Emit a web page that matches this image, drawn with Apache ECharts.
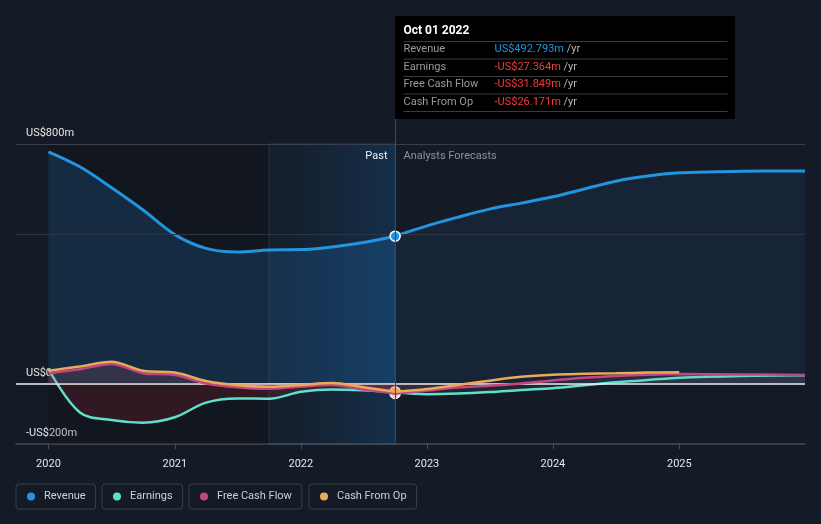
<!DOCTYPE html>
<html><head><meta charset="utf-8">
<script src="https://cdn.jsdelivr.net/npm/echarts@6/dist/echarts.min.js"></script>
<style>html,body{margin:0;padding:0;background:#151b26;}#c{width:821px;height:524px;}</style>
</head><body><div id="c"></div>
<script>
// ---------- data ----------
const pastDates = ['2020-01-01','2020-04-01','2020-07-01','2020-10-01','2021-01-01','2021-04-01','2021-07-01','2021-10-01','2022-01-01','2022-04-01','2022-07-01','2022-10-01'];
const revenuePast  = [774, 724, 655, 580, 498, 452, 440, 447, 448, 457, 472, 492.793];
const earningsPast = [50, -95, -120, -129, -111, -62, -48, -49, -26, -18, -21, -27.364];
const fcfPast      = [36, 49, 67, 36, 30, 2, -11, -16, -9, -3, -18, -31.849];
const cfoPast      = [44, 58, 74, 44, 38, 10, -4, -9, -3, 3, -11, -26.171];

const forecastDates = ['2022-10-01','2023-01-01','2023-04-01','2023-07-01','2023-10-01','2024-01-01','2024-04-01','2024-07-01','2024-10-01','2025-01-01','2025-07-01','2025-12-31'];
const revenueForecast  = [492.793, 527, 556, 583, 603, 624, 650, 676, 693, 704, 709, 710];
const earningsForecast = [-27.364, -34, -32, -27, -20, -14, -4, 6, 13, 21, 27, 29];
const fcfForecast      = [-31.849, -22, -12, -6, 2, 12, 21, 27, 31, 33, 32, 30];
const cfoForecast      = [-26.171, -17, -3, 11, 24, 31, 34, 36, 38, 39, null, null];

const seriesNames = ['Revenue', 'Earnings', 'Free Cash Flow', 'Cash From Op'];
const yearLabels = ['2020','2021','2022','2023','2024','2025'];
const yTickValues = [-200, 0, 800];
const gridLineValues = [800, 500];
const pastShadeStart = '2020-01-01';
const bandStart = '2021-10-01';
const axisStart = '2019-09-29';
const axisEnd = '2025-12-31';
const hoverDate = pastDates[pastDates.length - 1];

// ---------- helpers ----------
const COL = { rev: '#2394df', earn: '#5fe0cd', fcf: '#c4457f', cfo: '#e9aa5a' };
const FONT = 'Roboto, "Noto Sans", sans-serif';
function ts(s) { const p = s.split('-').map(Number); return new Date(p[0], p[1] - 1, p[2]).getTime(); }
function pairs(dates, vals) { return dates.map((d, i) => [ts(d), vals[i]]); }
function money(v) { return (v < 0 ? '-' : '') + 'US$' + Math.abs(v).toFixed(3) + 'm'; }
function axisMoney(v) { return v === 0 ? 'US$0' : (v < 0 ? '-US$' + (-v) + 'm' : 'US$' + v + 'm'); }
const yearTicks = yearLabels.map(y => ts(y + '-01-01'));
const last = pastDates.length - 1;

function dot(value, color, border) {
  return {
    silent: true, label: { show: false },
    data: [{ coord: [ts(hoverDate), value], symbol: 'circle', symbolSize: 10,
      itemStyle: { color: color, borderColor: border, borderWidth: 1.5 } }]
  };
}

const chart = echarts.init(document.getElementById('c'), null, { renderer: 'canvas' });

const legendLefts = [16, 102, 189, 309];
const legends = seriesNames.map((n, i) => ({
  data: [{ name: n, icon: 'circle' }],
  left: legendLefts[i], top: 484,
  orient: 'horizontal',
  borderColor: '#3b404b', borderWidth: 1, borderRadius: 3,
  padding: [7, 10, 7, 11],
  itemWidth: 8, itemHeight: 8,
  textStyle: { color: '#d0d0d0', fontSize: 11, fontFamily: FONT, padding: [0, 0, 0, 4] }
}));

const lineBase = { type: 'line', smooth: 0.35, showSymbol: false, symbol: 'none', emphasis: { disabled: true }, silent: true, z: 3 };

const option = {
  animation: false,
  backgroundColor: '#151b26',
  textStyle: { fontFamily: FONT },
  grid: { left: 16, right: 16, top: 144, bottom: 80 },
  legend: legends,
  xAxis: {
    type: 'value', min: ts(axisStart), max: ts(axisEnd), scale: true,
    axisLine: { show: true, onZero: false, lineStyle: { color: '#474c56', width: 1.5 } },
    axisTick: { show: true, length: 5, customValues: yearTicks, lineStyle: { color: '#474c56' } },
    axisLabel: { customValues: yearTicks, formatter: v => String(new Date(v).getFullYear()),
      color: '#e6e6e6', fontSize: 11, margin: 15, fontFamily: FONT, showMinLabel: true, showMaxLabel: true },
    splitLine: { show: false }
  },
  yAxis: {
    type: 'value', min: -200, max: 800, interval: 100,
    axisLine: { show: false }, axisTick: { show: false }, splitLine: { show: false },
    axisLabel: { inside: true, customValues: yTickValues, formatter: axisMoney, color: '#e6e6e6',
      fontSize: 11, margin: 10, verticalAlign: 'bottom', padding: [0, 0, 5, 0],
      showMinLabel: true, showMaxLabel: true, fontFamily: FONT }
  },
  series: [
    { type: 'line', name: '_bg', data: [], z: 1, silent: true,
      markArea: { silent: true, data: [
        [{ xAxis: ts(pastShadeStart), itemStyle: { color: 'rgba(0,0,0,0.18)' } }, { xAxis: ts(bandStart) }],
        [{ xAxis: ts(bandStart), itemStyle: {
            color: new echarts.graphic.LinearGradient(0, 0, 1, 0, [
              { offset: 0, color: 'rgba(20,60,100,0.08)' }, { offset: 1, color: 'rgba(20,75,125,0.42)' }]),
            borderColor: 'rgba(70,110,150,0.35)', borderWidth: 1 } },
         { xAxis: ts(hoverDate) }]
      ] },
      markLine: { silent: true, symbol: 'none', label: { show: false },
        data: gridLineValues.map((v, i) => ({ yAxis: v, lineStyle: { color: i === 0 ? '#3a404b' : '#2c3543', width: 1, type: 'solid' } })) }
    },
    { type: 'line', name: '_zero', data: [], z: 2, silent: true,
      markLine: { silent: true, symbol: 'none', label: { show: false },
        data: [{ yAxis: 0, lineStyle: { color: '#f2f2f2', width: 1.5, type: 'solid' } }] } },

    Object.assign({}, lineBase, { name: 'Revenue', data: pairs(pastDates, revenuePast), z: 3,
      lineStyle: { color: COL.rev, width: 3 }, itemStyle: { color: COL.rev },
      areaStyle: { color: 'rgba(35,140,230,0.25)' } }),
    Object.assign({}, lineBase, { name: 'Revenue', data: pairs(forecastDates, revenueForecast), z: 3,
      lineStyle: { color: COL.rev, width: 3 }, itemStyle: { color: COL.rev },
      areaStyle: { color: 'rgba(35,140,230,0.12)' } }),

    Object.assign({}, lineBase, { name: 'Earnings', data: pairs(pastDates, earningsPast), z: 4,
      lineStyle: { color: COL.earn, width: 2.5 }, itemStyle: { color: COL.earn },
      areaStyle: { color: 'rgba(170,40,55,0.3)' } }),
    Object.assign({}, lineBase, { name: 'Earnings', data: pairs(forecastDates, earningsForecast), z: 4,
      lineStyle: { color: COL.earn, width: 2.5 }, itemStyle: { color: COL.earn },
      areaStyle: { color: 'rgba(170,140,150,0.13)' } }),

    Object.assign({}, lineBase, { name: 'Free Cash Flow', data: pairs(pastDates, fcfPast), z: 5,
      lineStyle: { color: COL.fcf, width: 2.5 }, itemStyle: { color: COL.fcf },
      areaStyle: { color: 'rgba(200,90,110,0.25)' } }),
    Object.assign({}, lineBase, { name: 'Free Cash Flow', data: pairs(forecastDates, fcfForecast), z: 5,
      lineStyle: { color: COL.fcf, width: 2.5 }, itemStyle: { color: COL.fcf },
      areaStyle: { color: 'rgba(170,140,150,0.13)' } }),

    Object.assign({}, lineBase, { name: 'Cash From Op', data: pairs(pastDates, cfoPast), z: 6,
      lineStyle: { color: COL.cfo, width: 2.5 }, itemStyle: { color: COL.cfo } }),
    Object.assign({}, lineBase, { name: 'Cash From Op', data: pairs(forecastDates, cfoForecast), z: 6,
      lineStyle: { color: COL.cfo, width: 2.5 }, itemStyle: { color: COL.cfo } }),

    // highlight dots
    { type: 'line', name: '_dots1', data: [], z: 7, silent: true, markPoint: dot(revenuePast[last], COL.rev, '#ffffff') },
    { type: 'line', name: '_dots2', data: [], z: 7, silent: true, markPoint: dot(earningsPast[last], COL.earn, '#ffffff') },
    { type: 'line', name: '_dots3', data: [], z: 7, silent: true, markPoint: dot(fcfPast[last], COL.fcf, '#ffffff') },
    { type: 'line', name: '_dots4', data: [], z: 7, silent: true, markPoint: dot(cfoPast[last], COL.cfo, '#f4d6e2') }
  ]
};
chart.setOption(option);

// ---------- tooltip-like annotation at hover date ----------
const px = Math.round(chart.convertToPixel({ xAxisIndex: 0 }, ts(hoverDate))) + 0.5;
const yBottom = chart.convertToPixel({ yAxisIndex: 0 }, -200);
const yTop = chart.convertToPixel({ yAxisIndex: 0 }, 800);
const months = ['Jan','Feb','Mar','Apr','May','Jun','Jul','Aug','Sep','Oct','Nov','Dec'];
const hd = new Date(ts(hoverDate));
const tipTitle = months[hd.getMonth()] + ' ' + String(hd.getDate()).padStart(2, '0') + ' ' + hd.getFullYear();
const tipValues = [revenuePast[last], earningsPast[last], fcfPast[last], cfoPast[last]];

const boxTop = 16, boxH = 103, boxW = 340;
const els = [];
els.push({ type: 'line', silent: true, z: 100, shape: { x1: px, y1: boxTop + boxH, x2: px, y2: yBottom },
  style: { stroke: '#35495f', lineWidth: 1 } });
els.push({ type: 'rect', silent: true, z: 101, shape: { x: px - 0.5, y: boxTop, width: boxW, height: boxH }, style: { fill: '#000000' } });
els.push({ type: 'text', silent: true, z: 102, x: px + 8, y: 31,
  style: { text: tipTitle, fill: '#ffffff', font: 'bold 12px ' + FONT, verticalAlign: 'middle' } });
const sepYs = [41.5, 59, 76.5, 94, 111.5];
sepYs.forEach(y => els.push({ type: 'line', silent: true, z: 102,
  shape: { x1: px + 8, y1: y, x2: px + 332, y2: y }, style: { stroke: '#3c3c3c', lineWidth: 1 } }));
const rowYs = [49.5, 67, 84.5, 102];
seriesNames.forEach((n, i) => {
  els.push({ type: 'text', silent: true, z: 102, x: px + 8, y: rowYs[i],
    style: { text: n, fill: '#9a9a9a', font: '11px ' + FONT, verticalAlign: 'middle' } });
  const v = tipValues[i];
  els.push({ type: 'text', silent: true, z: 102, x: px + 99, y: rowYs[i],
    style: { text: '{v|' + money(v) + '} {u|/yr}', verticalAlign: 'middle', font: '11px ' + FONT,
      rich: { v: { fill: v < 0 ? '#f03c3c' : COL.rev, fontSize: 11, fontFamily: FONT },
              u: { fill: '#b8b8b8', fontSize: 11, fontFamily: FONT } } } });
});
els.push({ type: 'text', silent: true, z: 102, x: px - 8, y: yTop + 12,
  style: { text: 'Past', fill: '#eeeeee', font: '11px ' + FONT, align: 'right', verticalAlign: 'middle' } });
els.push({ type: 'text', silent: true, z: 102, x: px + 8, y: yTop + 12,
  style: { text: 'Analysts Forecasts', fill: '#8d939c', font: '11px ' + FONT, align: 'left', verticalAlign: 'middle' } });

chart.setOption({ graphic: { elements: els } });
</script></body></html>
